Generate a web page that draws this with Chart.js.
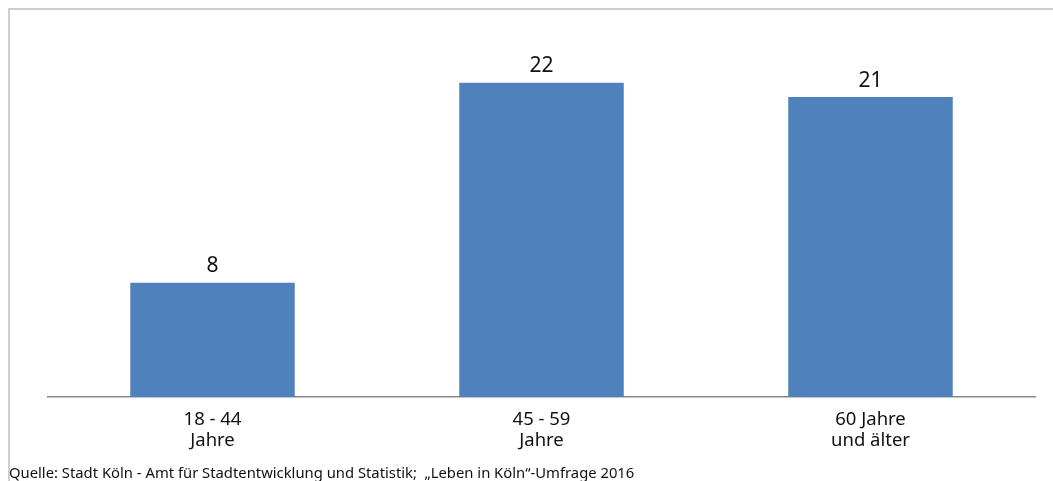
<!DOCTYPE html>
<html>
<head>
<meta charset="utf-8">
<script src="https://cdn.jsdelivr.net/npm/chart.js@4"></script>
<style>
  html, body { margin: 0; padding: 0; background: #fff; }
  #wrap { position: relative; width: 1053px; height: 481px; overflow: hidden; }
  #frame { position: absolute; left: 8px; top: 8px; width: 1100px; height: 500px;
           border-left: 2px solid #cfcfcf; border-top: 2px solid #cfcfcf; }
  #chart { position: absolute; left: 0; top: 0; }
  #source { position: absolute; left: 9px; top: 462px; font-family: "Noto Sans", sans-serif;
            font-size: 14.8px; color: #111; white-space: pre; }
</style>
</head>
<body>
<div id="wrap">
  <div id="frame"></div>
  <canvas id="chart" width="1053" height="481"></canvas>
  <div id="source">Quelle: Stadt Köln - Amt für Stadtentwicklung und Statistik;  „Leben in Köln“-Umfrage 2016</div>
</div>
<script>
const categories = [["18 - 44", "Jahre"], ["45 - 59", "Jahre"], ["60 Jahre", "und älter"]];
const values = [8, 22, 21];
const yMax = 25;

const valueLabels = {
  id: "valueLabels",
  afterDatasetsDraw(chart) {
    const ctx = chart.ctx;
    const meta = chart.getDatasetMeta(0);
    ctx.save();
    ctx.font = '21px "Noto Sans", sans-serif';
    ctx.fillStyle = "#111";
    ctx.textAlign = "center";
    ctx.textBaseline = "bottom";
    meta.data.forEach((bar, i) => {
      ctx.fillText(String(values[i]), bar.x, bar.y - 6);
    });
    ctx.restore();
  }
};

new Chart(document.getElementById("chart").getContext("2d"), {
  type: "bar",
  data: {
    labels: categories,
    datasets: [{
      data: values,
      backgroundColor: "#4f81bd",
      borderWidth: 0,
      barPercentage: 0.5,
      categoryPercentage: 1
    }]
  },
  options: {
    responsive: false,
    animation: false,
    layout: { padding: { left: 48, right: 18, top: 40, bottom: 0 } },
    plugins: { legend: { display: false }, tooltip: { enabled: false } },
    scales: {
      x: {
        grid: { display: false, drawTicks: false },
        border: { color: "#888", width: 1.5 },
        ticks: {
          color: "#111",
          padding: 13,
          font: { family: "Noto Sans", size: 18.5, lineHeight: 1.1 },
          maxRotation: 0
        },
        afterFit: (scale) => { scale.height = 84; }
      },
      y: {
        display: false,
        min: 0,
        max: yMax
      }
    }
  },
  plugins: [valueLabels]
});
</script>
</body>
</html>
